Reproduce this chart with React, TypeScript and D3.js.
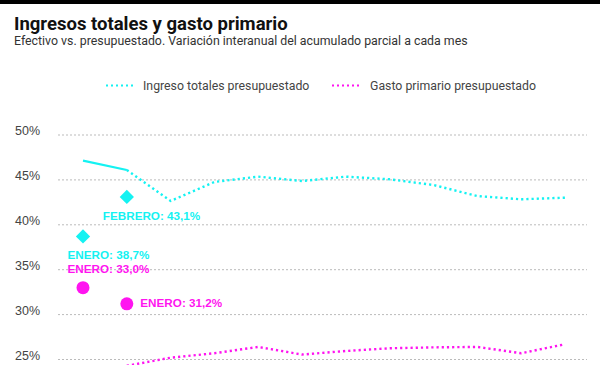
import React, { useEffect } from "react";
import * as d3 from "d3";

const months = ["Ene", "Feb", "Mar", "Abr", "May", "Jun", "Jul", "Ago", "Sep", "Oct", "Nov", "Dic"];
const yTicks = [25, 30, 35, 40, 45, 50];

// Ingresos totales: solid segment (Jan-Feb) and budget dotted line (Feb-Dec)
const ingresoSolid = [47.14, 46.1];
const ingresoPresup = [null, 46.1, 42.65, 44.77, 45.36, 44.88, 45.36, 45.07, 44.43, 43.2, 42.84, 43.02];
// Gasto primario presupuestado
const gastoPresup = [null, 24.3, 25.2, 25.7, 26.4, 25.55, 25.95, 26.25, 26.35, 26.4, 25.7, 26.7];

// Effective values
const ingresoEfectivo = [38.7, 43.1];
const gastoEfectivo = [33.0, 31.2];

const ingresoLabels = ["ENERO: 38,7%", "FEBRERO: 43,1%"];
const gastoLabels = ["ENERO: 33,0%", "ENERO: 31,2%"];

const CYAN = "#14f2f2";
const MAGENTA = "#ff14f0";
const FONT = "Roboto, 'Liberation Sans', sans-serif";
const LABEL_FONT = "'Liberation Sans', Arial, sans-serif";

export default function App() {
  useEffect(() => {
    document.body.style.margin = "0";
  }, []);

  const W = 600;
  const H = 365;
  const x = d3.scalePoint<string>().domain(months).range([83, 565]);
  const y = d3.scaleLinear().domain([25, 50]).range([359.5, 135]);

  const lineSolid = d3
    .line<number>()
    .x((_, i) => x(months[i])!)
    .y((d) => y(d));
  const lineDef = d3
    .line<number | null>()
    .defined((d) => d !== null)
    .x((_, i) => x(months[i])!)
    .y((d) => y(d as number));

  const diamond = d3.symbol().type(d3.symbolDiamond2).size(130);

  return (
    <svg width={W} height={H} style={{ display: "block", fontFamily: FONT }}>
      <rect x={0} y={0} width={W} height={H} fill="#fff" />
      <rect x={0} y={0} width={W} height={4} fill="#000" />
      <text x={14} y={29.5} fontSize={18.5} fontWeight={700} fill="#111">
        Ingresos totales y gasto primario
      </text>
      <text x={14} y={45} fontSize={12.35} fill="#333">
        Efectivo vs. presupuestado. Variación interanual del acumulado parcial a cada mes
      </text>

      {/* legend */}
      <line x1={106} x2={135} y1={85.5} y2={85.5} stroke={CYAN} strokeWidth={2} strokeDasharray="2,3" />
      <text x={143} y={90} fontSize={12.3} fill="#444">
        Ingreso totales presupuestado
      </text>
      <line x1={332} x2={362} y1={85.5} y2={85.5} stroke={MAGENTA} strokeWidth={2} strokeDasharray="2,3" />
      <text x={370} y={90} fontSize={12.3} fill="#444">
        Gasto primario presupuestado
      </text>

      {/* grid */}
      {yTicks.map((t) => (
        <g key={t}>
          <line x1={58} x2={587} y1={y(t)} y2={y(t)} stroke="#bbb" strokeWidth={1} strokeDasharray="2,2" />
          <text x={40} y={y(t)} textAnchor="end" fontSize={12.5} fill="#444" fontFamily={LABEL_FONT}>
            {t}%
          </text>
        </g>
      ))}

      {/* lines */}
      <path d={lineSolid(ingresoSolid)!} fill="none" stroke={CYAN} strokeWidth={2.2} />
      <path d={lineDef(ingresoPresup)!} fill="none" stroke={CYAN} strokeWidth={2.4} strokeDasharray="2.2,3" />
      <path d={lineDef(gastoPresup)!} fill="none" stroke={MAGENTA} strokeWidth={2.4} strokeDasharray="2.2,3" />

      {/* effective markers */}
      {ingresoEfectivo.map((v, i) => (
        <path key={"d" + i} d={diamond()!} transform={`translate(${x(months[i])},${y(v)})`} fill={CYAN} />
      ))}
      {gastoEfectivo.map((v, i) => (
        <circle key={"c" + i} cx={x(months[i])} cy={y(v)} r={6.5} fill={MAGENTA} />
      ))}

      {/* labels */}
      <g fontFamily={LABEL_FONT} fontSize={11.7} fontWeight={700}>
        <text x={x(months[1])! - 24} y={y(ingresoEfectivo[1]) + 23} fill={CYAN}>
          {ingresoLabels[1]}
        </text>
        <text x={x(months[0])! - 15.5} y={y(ingresoEfectivo[0]) + 22.5} fill={CYAN}>
          {ingresoLabels[0]}
        </text>
        <text x={x(months[0])! - 15.5} y={y(gastoEfectivo[0]) - 15} fill={MAGENTA}>
          {gastoLabels[0]}
        </text>
        <text x={x(months[1])! + 13.5} y={y(gastoEfectivo[1]) + 3} fill={MAGENTA}>
          {gastoLabels[1]}
        </text>
      </g>
    </svg>
  );
}
